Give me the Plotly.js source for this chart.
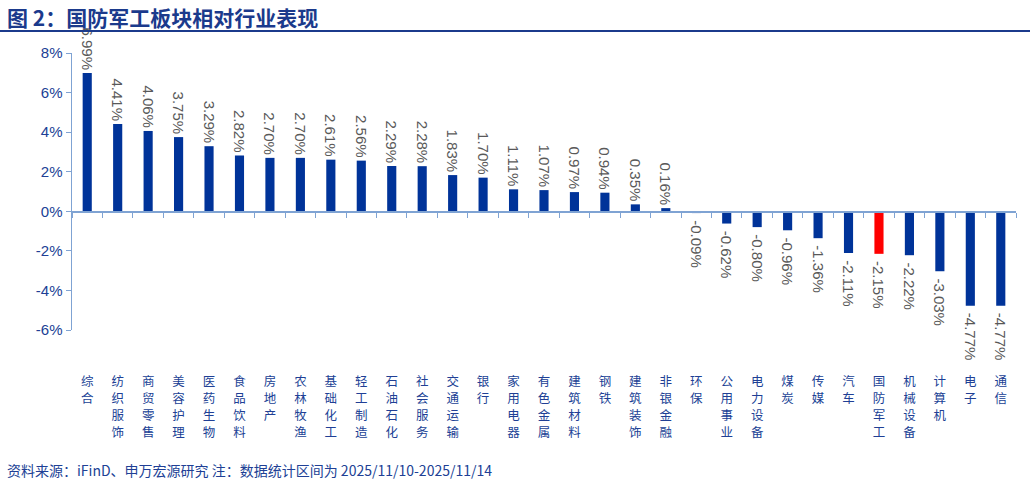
<!DOCTYPE html>
<html>
<head>
<meta charset="utf-8">
<script src="https://cdn.plot.ly/plotly-3.0.1.min.js"></script>
<style>
html,body{margin:0;padding:0;background:#fff;}
#chart{width:1030px;height:486px;}
</style>
</head>
<body>
<div id="chart"></div>
<script>
const categories = ['综合','纺织服饰','商贸零售','美容护理','医药生物','食品饮料','房地产','农林牧渔','基础化工','轻工制造','石油石化','社会服务','交通运输','银行','家用电器','有色金属','建筑材料','钢铁','建筑装饰','非银金融','环保','公用事业','电力设备','煤炭','传媒','汽车','国防军工','机械设备','计算机','电子','通信'];
const values = [6.99,4.41,4.06,3.75,3.29,2.82,2.70,2.70,2.61,2.56,2.29,2.28,1.83,1.70,1.11,1.07,0.97,0.94,0.35,0.16,-0.09,-0.62,-0.80,-0.96,-1.36,-2.11,-2.15,-2.22,-3.03,-4.77,-4.77];
const highlight = '国防军工';
const yTickVals = [8,6,4,2,0,-2,-4,-6];
const yTickText = ['8%','6%','4%','2%','0%','-2%','-4%','-6%'];
const titleText = '图 2：国防军工板块相对行业表现';
const sourceText = '资料来源：iFinD、申万宏源研究 注：数据统计区间为 2025/11/10-2025/11/14';

const BLUE = '#003399', RED = '#FF0000', AXIS = '#7FA3D3', TXT = '#203F95';
const yMin = -6, yMax = 8;
const NB = '\u00A0';

const colors = categories.map(c => c === highlight ? RED : BLUE);
const labels = values.map(v => v < 0 ? NB + '-' + Math.abs(v).toFixed(2) + '%' : v.toFixed(2) + '%');
const maxChars = Math.max(...categories.map(c => Array.from(c).length));

const bars = {
  type: 'bar', x: categories, y: values, xaxis: 'x', yaxis: 'y',
  marker: {color: colors, line: {width: 0}},
  text: labels, textposition: 'outside', textangle: 90,
  textfont: {family: 'Liberation Sans, Arial, sans-serif', size: 15, color: '#595959'},
  constraintext: 'none', cliponaxis: false, hoverinfo: 'skip', showlegend: false
};

const traces = [bars];
const layout = {
  width: 1030, height: 486,
  margin: {l: 72, r: 14, t: 53, b: 156},
  paper_bgcolor: '#fff', plot_bgcolor: '#fff',
  bargap: 0.7,
  font: {family: 'Liberation Sans, Arial, sans-serif'},
  xaxis: {
    type: 'category', range: [-0.5, categories.length - 0.5],
    anchor: 'free', position: (0 - yMin) / (yMax - yMin),
    showline: true, linecolor: AXIS, linewidth: 1.5,
    ticks: 'outside', tickson: 'boundaries', ticklen: 5, tickcolor: AXIS, tickwidth: 1,
    showticklabels: false, showgrid: false, zeroline: false, fixedrange: true
  },
  yaxis: {
    range: [yMin, yMax], tickmode: 'array', tickvals: yTickVals, ticktext: yTickText,
    showline: true, linecolor: AXIS, linewidth: 1.5,
    ticks: 'outside', ticklen: 5, tickcolor: AXIS, tickwidth: 1,
    showgrid: false, zeroline: false,
    tickfont: {family: 'Liberation Sans, Arial, sans-serif', size: 15, color: TXT}
  },
  shapes: [
    {type: 'line', xref: 'paper', yref: 'paper', x0: -72/944, x1: 1.02, y0: 1 + 22/277, y1: 1 + 22/277,
     line: {color: '#1B3A8C', width: 2}}
  ],
  annotations: [
    {text: '<b>' + titleText + '</b>', xref: 'paper', yref: 'paper', x: -67/944, y: 1 + 36/277,
     xanchor: 'left', yanchor: 'middle', showarrow: false,
     font: {family: 'Noto Sans CJK SC, sans-serif', size: 21, color: '#1B3A8C'}},
    {text: sourceText, xref: 'paper', yref: 'paper', x: -67/944, y: -140/277,
     xanchor: 'left', yanchor: 'middle', showarrow: false,
     font: {family: 'Noto Sans CJK SC, sans-serif', size: 14, color: TXT}}
  ]
};

// vertical (upright, stacked) category labels: one overlay axis per character row
for (let r = 0; r < maxChars; r++) {
  const ax = 'x' + (r + 2);
  traces.push({
    type: 'scatter', mode: 'markers', x: categories, y: categories.map(() => 0),
    xaxis: ax, yaxis: 'y', marker: {opacity: 0}, hoverinfo: 'skip', showlegend: false
  });
  layout['xaxis' + (r + 2)] = {
    type: 'category', overlaying: 'x', anchor: 'y', side: 'bottom',
    range: [-0.5, categories.length - 0.5],
    showline: false, ticks: '', showgrid: false, zeroline: false,
    tickmode: 'array', tickvals: categories,
    ticktext: categories.map(c => Array.from(c)[r] || ''), tickangle: 0,
    ticklabelstandoff: 42 + r * 17,
    tickfont: {family: 'Noto Sans CJK SC, sans-serif', size: 12.5, color: TXT}
  };
}

Plotly.newPlot('chart', traces, layout, {staticPlot: true, displayModeBar: false});
</script>
</body>
</html>
